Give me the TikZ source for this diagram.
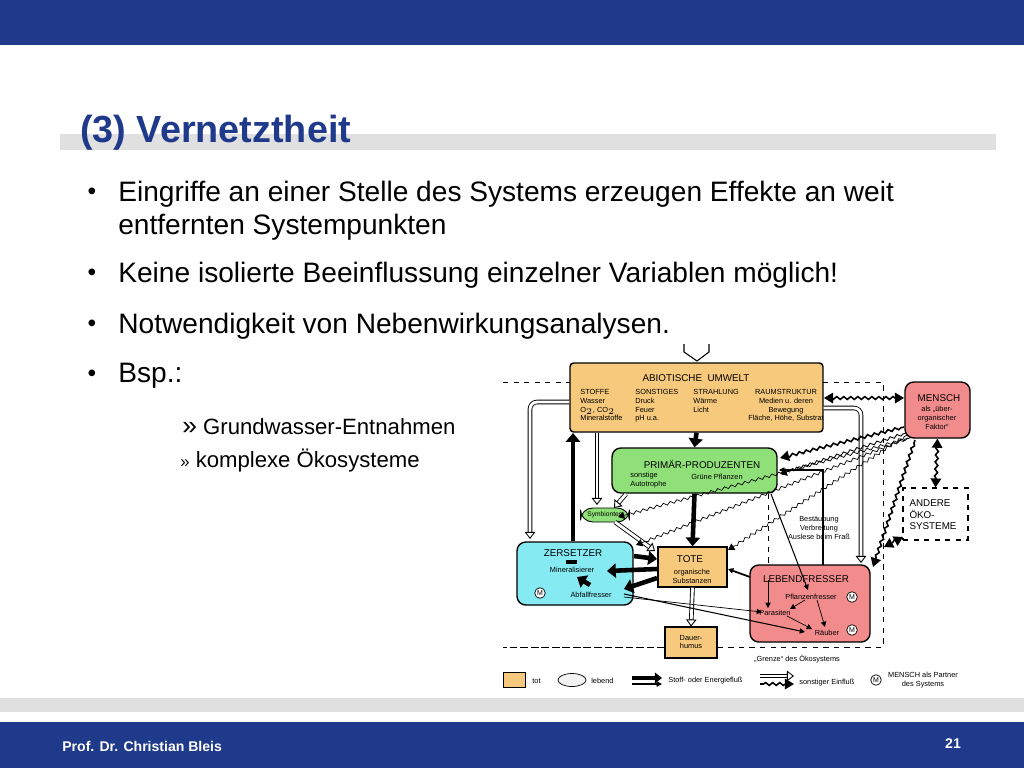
\documentclass[tikz,border=0pt]{standalone}
\usepackage{fontspec}
\setmainfont{Liberation Sans}
\usetikzlibrary{decorations.pathmorphing,arrows.meta,shapes.geometric}
\definecolor{slideblue}{HTML}{1F3A8A}
\definecolor{tot}{HTML}{F6C97C}
\definecolor{gruen}{HTML}{8FE078}
\definecolor{cyanb}{HTML}{86EAF2}
\definecolor{pinkb}{HTML}{F28C8C}
\tikzset{
 box/.style={draw=black,line width=0.8pt,rounded corners=2pt,inner sep=0pt},
 tiny/.style={font=\fontsize{4.2}{5}\selectfont,align=center,inner sep=0pt},
 small/.style={font=\fontsize{5.6}{6.5}\selectfont,align=center,inner sep=0pt},
 thick arr/.style={line width=2.6pt,-{Triangle[length=5pt,width=8pt]}},
 med arr/.style={line width=1pt,-{Triangle[length=3pt,width=3pt]}},
 dbl arr/.style={double=white,double distance=1.6pt,line width=0.5pt,-{Triangle[open,length=4pt,width=6pt]}},
 wavy/.style={line width=0.9pt,decorate,decoration={snake,amplitude=0.8pt,segment length=4pt,pre length=2pt,post length=4pt}},
 bullet/.style={font=\fontsize{16}{18.7}\selectfont,anchor=west,align=left,inner sep=0pt},
}
\begin{document}
\begin{tikzpicture}[x=0.02cm,y=-0.02cm]
\useasboundingbox (0,0) rectangle (1024,768);
\fill[white] (0,0) rectangle (1024,768);
% slide frame
\fill[slideblue] (0,0) rectangle (1024,45);
\fill[black!12] (60,134) rectangle (996,150);
\fill[black!12] (0,698) rectangle (1024,712);
\fill[slideblue] (0,722) rectangle (1024,768);
\node[anchor=west,text=slideblue,font=\fontsize{21.5}{24}\selectfont\bfseries,inner sep=0pt] (title) at (80,133) {(3) Vernetztheit};
\node[anchor=west,text=white,font=\fontsize{8}{10}\selectfont\bfseries,inner sep=0pt] (foot) at (62,746) {Prof. Dr. Christian Bleis};
\node[text=white,font=\fontsize{8}{10}\selectfont\bfseries,inner sep=0pt] (page) at (953,744) {21};
% bullets
\foreach \yy/\nn in {194/b1,275/b2,326/b3,376/b4}{\node[font=\fontsize{14}{15}\selectfont,inner sep=0pt] (\nn) at (92,\yy) {•};}
\node[bullet] (t1) at (118,194) {Eingriffe an einer Stelle des Systems erzeugen Effekte an weit};
\node[bullet] (t1b) at (118,227) {entfernten Systempunkten};
\node[bullet] (t2) at (118,275) {Keine isolierte Beeinflussung einzelner Variablen möglich!};
\node[bullet] (t3) at (118,326) {Notwendigkeit von Nebenwirkungsanalysen.};
\node[bullet] (t4) at (118,376) {Bsp.:};
\node[anchor=west,font=\fontsize{12.6}{14}\selectfont,inner sep=0pt] (s1) at (182,427) {\fontsize{15}{16}\selectfont»\fontsize{12.6}{14}\selectfont\ Grundwasser-Entnahmen};
\node[anchor=west,font=\fontsize{12.6}{14}\selectfont,inner sep=0pt] (s2) at (180,461) {\fontsize{9.5}{10}\selectfont»\fontsize{12.6}{14}\selectfont\ komplexe Ökosysteme};
% diagram
\draw[dashed,line width=0.5pt] (503,382) -- (570,382) (823,382) -- (883,382) -- (883,647) -- (717,647) (665,647) -- (503,647) -- cycle;
\node[box,fill=tot,minimum width=5.06cm,minimum height=1.38cm] (abio) at (696.5,397.5) {};
\node[small] (abiot) at (696,378) {ABIOTISCHE\ \ UMWELT};
\node[tiny,align=left,anchor=north west] (st1) at (580,389) {STOFFE\\Wasser\\O$_2$, CO$_2$\\Mineralstoffe};
\node[tiny,align=left,anchor=north west] (st2) at (635,389) {SONSTIGES\\Druck\\Feuer\\pH u.a.};
\node[tiny,align=left,anchor=north west] (st3) at (693,389) {STRAHLUNG\\Wärme\\Licht};
\node[tiny,anchor=north] (st4) at (786,389) {RAUMSTRUKTUR\\Medien u. deren\\Bewegung\\Fläche, Höhe, Substrat};
\node[box,fill=pinkb,rounded corners=5pt,minimum width=1.3cm,minimum height=1.12cm] (mensch) at (937.5,410) {};
\node[small] (menscht) at (939,398) {MENSCH};
\node[tiny] (menschs) at (937,418) {als „über-\\organischer\\Faktor“};
\node[box,fill=gruen,rounded corners=5pt,minimum width=3.3cm,minimum height=0.9cm] (prim) at (694.5,470.5) {};
\node[small] (primt) at (702,464) {PRIMÄR-PRODUZENTEN};
\node[tiny,align=left,anchor=west] (prim1) at (630,480) {sonstige\\Autotrophe};
\node[tiny] (prim2) at (717,477) {Grüne Pflanzen};
\node[box,fill=gruen,line width=0.5pt,rounded corners=7pt,minimum width=0.98cm,minimum height=0.28cm] (symb) at (605,515) {};
\node[tiny,font=\fontsize{3.8}{4.5}\selectfont] (symbt) at (605,515) {Symbionten};
\node[draw,dashed,line width=0.6pt,fill=white,minimum width=1.3cm,minimum height=1.04cm,inner sep=0pt] (andere) at (935.5,514) {};
\node[small,align=left] (anderet) at (933,515) {ANDERE\\ÖKO-\\SYSTEME};
\node[box,fill=cyanb,rounded corners=5pt,minimum width=2.32cm,minimum height=1.26cm] (zers) at (575,573.5) {};
\node[small] (zerst) at (573,553) {ZERSETZER};
\node[tiny] (minera) at (572,570) {Mineralisierer};
\node[tiny] (abfall) at (591,595) {Abfallfresser};
\node[draw,circle,fill=white,inner sep=0.6pt,font=\fontsize{4}{5}\selectfont] (m1) at (540,593) {M};
\node[box,fill=tot,rounded corners=0pt,minimum width=1.38cm,minimum height=0.8cm] (tote) at (692.5,567) {};
\node[small] (totet) at (690,559) {TOTE};
\node[tiny] (totes) at (692,576) {organische\\Substanzen};
\node[box,fill=pinkb,rounded corners=5pt,minimum width=2.4cm,minimum height=1.54cm] (lebend) at (810,603.5) {};
\node[small] (lebendt) at (806,579) {LEBENDFRESSER};
\node[tiny] (pflanz) at (811,597) {Pflanzenfresser};
\node[tiny] (paras) at (775,613) {Parasiten};
\node[tiny] (raeub) at (827,633) {Räuber};
\node[draw,circle,fill=white,inner sep=0.6pt,font=\fontsize{4}{5}\selectfont] (m2) at (852,597) {M};
\node[draw,circle,fill=white,inner sep=0.6pt,font=\fontsize{4}{5}\selectfont] (m3) at (852,630) {M};
\node[box,fill=tot,rounded corners=0pt,line width=0.6pt,minimum width=1.04cm,minimum height=0.62cm] (dauer) at (691,642.5) {};
\node[tiny] (dauert) at (691,642) {Dauer-\\humus};
\node[tiny,fill=white,inner sep=0.5pt] (bestt) at (819,528) {Bestäubung\\Verbreitung\\Auslese beim Fraß};
\node[tiny] (grenze) at (797,659) {„Grenze“ des Ökosystems};
% top input arrows
\coordinate (in1) at (684,344); \coordinate (in2) at (709,344); \coordinate (inm) at (697,361);
\draw[line width=0.6pt] (in1) -- (684,352) -- (inm) -- (709,352) -- (in2);
% thick flows
\draw[thick arr] (abio.south) -- (prim.north);
\draw[thick arr] (prim.south) -- (tote.north);
\draw[thick arr] (573,541) -- (573,433);
\draw[line width=2.2pt] (566,562) -- (577,562);
\draw[thick arr] (634,556) -- (657,559);
\draw[thick arr] (657,569) -- (607,571);
\draw[thick arr] (657,578) -- (624,589);
\draw[thick arr] (590,585) -- (577,577);
\draw[med arr] (750,577) -- (728,569);
% double flows
\draw[dbl arr,rounded corners=4pt] (abio.west|-,402) -- (530,402) -- (530,539);
\draw[dbl arr,rounded corners=4pt] (abio.east|-,408) -- (861,408) -- (861,563);
\draw[dbl arr] (597,433) -- (597,505);
\draw[dbl arr] (626,494) -- (614,508);
\draw[dbl arr] (615,522) -- (655,551);
\draw[dbl arr] (tote.south) -- (dauer.north);
% wavy influences
\draw[wavy,<->,>=Triangle] (824,398) -- (904,398);
\draw[wavy,->,>=Triangle] (904,427) -- (780,458);
\draw[wavy,line width=0.5pt,->,>=Triangle] (906,433) -- (780,474);
\draw[wavy,line width=0.4pt,->,>=Triangle] (907,435) -- (728,550);
\draw[wavy,line width=0.4pt,->,>=Triangle] (908,438) -- (636,545);
\draw[wavy,line width=0.4pt,->,>=Triangle] (910,438) -- (618,517);
\draw[wavy,->,>=Triangle] (915,440) -- (873,567);
\draw[wavy,<->,>=Triangle] (mensch.south) -- (andere.north);
\draw[wavy,<->,>=Triangle] (903,537) -- (884,547);
% Lebendfresser related lines
\draw[med arr,line width=0.6pt] (823,565) -- (823,470) -- (779,470);
\draw[med arr,line width=0.6pt] (771,494) -- (808,590);
\draw[dashed,line width=0.4pt] (768,494) -- (768,564);
\draw[med arr,line width=0.4pt] (768,580) -- (768,608);
\draw[med arr,line width=0.4pt] (805,600) -- (790,609);
\draw[med arr,line width=0.4pt] (817,600) -- (825,627);
\draw[med arr,line width=0.4pt] (787,616) -- (812,629);
\draw[med arr,line width=0.6pt] (624,594) -- (805,632);
\draw[med arr,line width=0.4pt] (624,597) -- (762,612);
% legend
\node[draw,fill=tot,minimum width=0.44cm,minimum height=0.3cm,inner sep=0pt] (lg1) at (514,680) {};
\node[tiny,anchor=west] (lg1t) at (532,681) {tot};
\node[draw,ellipse,fill=black!5,minimum width=0.56cm,minimum height=0.26cm,inner sep=0pt] (lg2) at (572,680) {};
\node[tiny,anchor=west] (lg2t) at (591,681) {lebend};
\coordinate (lg3a) at (632,678); \coordinate (lg3b) at (662,678);
\draw[line width=2pt,-{Triangle[length=4pt,width=6pt]}] (lg3a) -- (lg3b);
\draw[line width=0.6pt,-{Triangle[length=3pt,width=3pt]}] (632,684) -- (662,684);
\node[tiny,anchor=west] (lg3t) at (668,681) {Stoff- oder Energiefluß};
\coordinate (lg4a) at (760,676); \coordinate (lg4b) at (794,676);
\draw[dbl arr] (lg4a) -- (lg4b);
\draw[wavy,->,>=Triangle] (760,684) -- (794,684);
\node[tiny,anchor=west] (lg4t) at (799,683) {sonstiger Einfluß};
\node[draw,circle,inner sep=0.6pt,font=\fontsize{4}{5}\selectfont] (lg5) at (876,680) {M};
\node[tiny] (lg5t) at (923,680) {MENSCH als Partner\\des Systems};
\end{tikzpicture}
\end{document}
